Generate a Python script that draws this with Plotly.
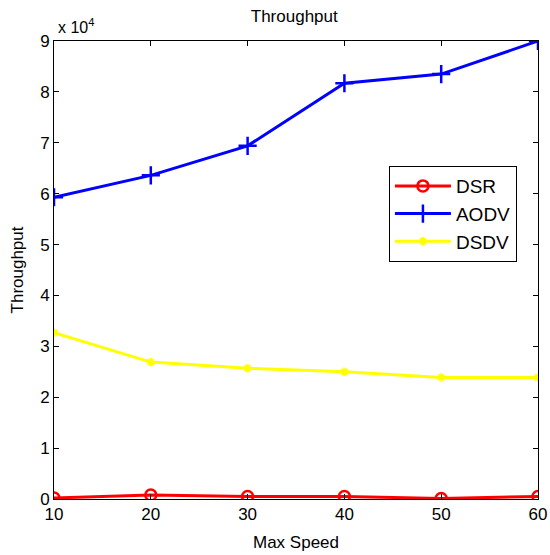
import plotly.graph_objects as go

# Throughput vs. maximum node speed for three routing protocols
max_speed = [10, 20, 30, 40, 50, 60]
dsr = [200, 800, 500, 500, 100, 500]
aodv = [59300, 63600, 69400, 81700, 83500, 90000]
dsdv = [32700, 26900, 25700, 25000, 23900, 23900]

y_ticks = [0, 10000, 20000, 30000, 40000, 50000, 60000, 70000, 80000, 90000]
y_tick_text = ["0", "1", "2", "3", "4", "5", "6", "7", "8", "9"]
x_ticks = [10, 20, 30, 40, 50, 60]

font_family = "Liberation Sans, Arial, sans-serif"

fig = go.Figure()
fig.add_trace(go.Scatter(
    x=max_speed, y=dsr, name="DSR", mode="lines+markers",
    line=dict(color="#ff0000", width=3),
    marker=dict(symbol="circle-open", size=11, color="#ff0000", line=dict(width=2.5)),
))
fig.add_trace(go.Scatter(
    x=max_speed, y=aodv, name="AODV", mode="lines+markers",
    line=dict(color="#0000ff", width=3),
    marker=dict(symbol="cross-thin-open", size=13, color="#0000ff", line=dict(width=2.5)),
))
fig.add_trace(go.Scatter(
    x=max_speed, y=dsdv, name="DSDV", mode="lines+markers",
    line=dict(color="#ffff00", width=3),
    marker=dict(symbol="asterisk-open", size=7, color="#ffff00", line=dict(width=2)),
))

axis_common = dict(
    showgrid=False, zeroline=False, showline=True, linecolor="black", linewidth=1,
    mirror="allticks", ticks="inside", ticklen=5, tickcolor="black", automargin=False,
    tickfont=dict(family=font_family, size=17, color="black"),
)

fig.update_layout(
    width=550, height=555,
    margin=dict(l=54, r=12, t=41, b=56),
    paper_bgcolor="white", plot_bgcolor="white",
    font=dict(family=font_family, color="black"),
    title=dict(text="Throughput", x=0.535, xanchor="center", y=0.971, yanchor="middle",
               font=dict(size=17, family=font_family, color="black")),
    xaxis=dict(range=[10, 60], tickvals=x_ticks,
               title=dict(text="Max Speed", font=dict(size=17), standoff=12), **axis_common),
    yaxis=dict(range=[0, 90000], tickvals=y_ticks, ticktext=y_tick_text,
               title=dict(text="Throughput", font=dict(size=17), standoff=12), **axis_common),
    legend=dict(x=0.692, y=0.727, xanchor="left", yanchor="top",
                bordercolor="black", borderwidth=1, bgcolor="white",
                font=dict(size=19, family=font_family, color="black"),
                itemwidth=56, tracegroupgap=0),
    showlegend=True,
)

fig.add_annotation(
    text="x 10<sup>4</sup>", xref="paper", yref="paper", x=0.0, y=1.0,
    xanchor="left", yanchor="bottom", showarrow=False, yshift=3, xshift=2,
    font=dict(size=16, family=font_family, color="black"),
)

fig.write_html("out.html")
